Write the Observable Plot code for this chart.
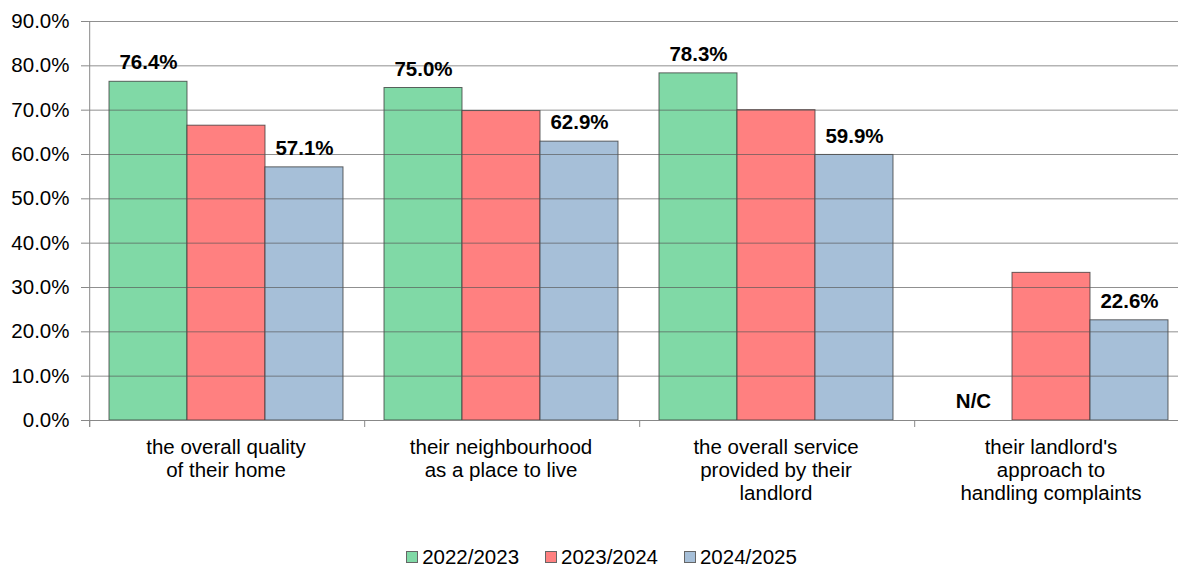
<!DOCTYPE html>
<html>
<head>
<meta charset="utf-8">
<script src="https://cdn.jsdelivr.net/npm/d3@7"></script>
<script src="https://cdn.jsdelivr.net/npm/@observablehq/plot@0.6"></script>
<style>
  html, body { margin: 0; padding: 0; background: #fff; }
  body { width: 1178px; font-family: "Liberation Sans", Arial, sans-serif; }
  #chart svg { display: block; }
  #chart svg g[aria-label="y-axis tick label"] { font-size: 20.5px; }
  #chart svg g[aria-label="fx-axis tick label"] { font-size: 20.5px; }
  #legend { display: flex; justify-content: center; gap: 26px; font-size: 20.5px; line-height: 19px; height: 19px; color: #000; margin-top: 15px; padding-left: 25px; }
  .item { display: flex; align-items: center; }
  .sw { width: 10px; height: 10px; border: 1px solid #666; margin-right: 4px; }
</style>
</head>
<body>
<div id="chart"></div>
<div id="legend"></div>
<script>
const categories = [
  "the overall quality\nof their home",
  "their neighbourhood\nas a place to live",
  "the overall service\nprovided by their\nlandlord",
  "their landlord's\napproach to\nhandling complaints"
];
const years = ["2022/2023", "2023/2024", "2024/2025"];
const colors = ["#80d9a6", "#ff8080", "#a6bfd8"];
const values2022 = [76.4, 75.0, 78.3, null];
const values2023 = [66.5, 69.8, 70.0, 33.3];
const values2024 = [57.1, 62.9, 59.9, 22.6];
const labels2022 = ["76.4%", "75.0%", "78.3%", "N/C"];
const labels2024 = ["57.1%", "62.9%", "59.9%", "22.6%"];
const yTicks = [0, 10, 20, 30, 40, 50, 60, 70, 80, 90];

const series = [values2022, values2023, values2024];
const data = [];
categories.forEach((c, i) => years.forEach((y, j) => {
  if (series[j][i] != null) data.push({cat: c, year: y, value: series[j][i]});
}));
const labelData = [];
categories.forEach((c, i) => {
  labelData.push({cat: c, year: years[0], value: values2022[i] ?? 0, text: labels2022[i]});
  labelData.push({cat: c, year: years[2], value: values2024[i], text: labels2024[i]});
});

const W = 1178, H = 532;
const mL = 87, mR = -11, mT = 21, mB = H - 420;
const pOuter = 0.245;
const facetW = (W - mL - mR) / categories.length;
const step = facetW / (years.length + 2 * pOuter);
const toFacetEdge = -(pOuter + 0.5) * step;

const chart = Plot.plot({
  width: W,
  height: H,
  marginLeft: mL,
  marginRight: mR,
  marginTop: mT,
  marginBottom: mB,
  style: {fontFamily: "'Liberation Sans', Arial, sans-serif", fontSize: "20.5px", color: "#000", background: "#fff"},
  fx: {domain: categories, padding: 0, label: null},
  x: {domain: years, paddingInner: 0, paddingOuter: pOuter, axis: null},
  y: {domain: [0, 90], label: null},
  color: {domain: years, range: colors},
  marks: [
    Plot.barY(data, {fx: "cat", x: "year", y: "value", fill: "year", stroke: "#333", strokeOpacity: 0.75, strokeWidth: 1}),
    Plot.gridY(yTicks, {stroke: "#555", strokeOpacity: 0.65}),
    Plot.ruleY([0], {stroke: "#888", strokeOpacity: 1}),
    Plot.ruleX(categories, {fx: d => d, x: () => years[0], dx: toFacetEdge, y1: 0, y2: 0, insetBottom: -7, stroke: "#888"}),
    Plot.ruleX([categories[0]], {fx: d => d, x: () => years[0], dx: toFacetEdge, y1: 90, y2: 0, insetBottom: -7, stroke: "#888"}),
    Plot.axisY({ticks: yTicks, tickFormat: d => d.toFixed(1) + "%", tickSize: 7, tickPadding: 12, fontSize: 20.5, stroke: "#888", color: "#000"}),
    Plot.axisFx({anchor: "bottom", tickSize: 0, tickPadding: 17, fontSize: 20.5, lineHeight: 1.12, label: null}),
    Plot.text(labelData, {fx: "cat", x: "year", y: "value", text: "text", dy: -19, fontWeight: "bold", fontSize: 20.5, fill: "#000"})
  ]
});
document.getElementById("chart").appendChild(chart);

const legend = document.getElementById("legend");
years.forEach((y, j) => {
  const it = document.createElement("div");
  it.className = "item";
  const sw = document.createElement("div");
  sw.className = "sw";
  sw.style.background = colors[j];
  it.appendChild(sw);
  const t = document.createElement("span");
  t.textContent = y;
  it.appendChild(t);
  legend.appendChild(it);
});
</script>
</body>
</html>
